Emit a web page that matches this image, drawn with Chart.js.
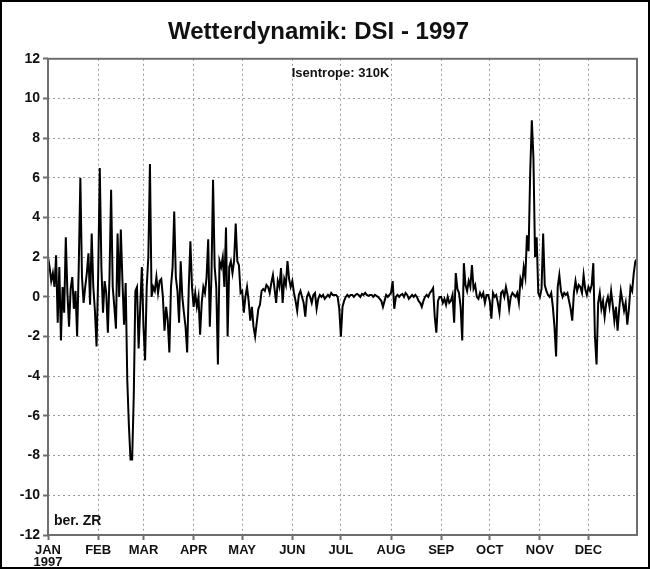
<!DOCTYPE html>
<html><head><meta charset="utf-8">
<script src="https://cdn.jsdelivr.net/npm/chart.js@4"></script>
<style>html,body{margin:0;padding:0;background:#fff}#c{display:block}</style>
</head><body>
<canvas id="c" width="650" height="569"></canvas>
<script>
const titleText = 'Wetterdynamik: DSI - 1997';
const isentropeText = 'Isentrope: 310K';
const sourceText = 'ber. ZR';
const yearLabel = '1997';
const monthLabels = ['JAN','FEB','MAR','APR','MAY','JUN','JUL','AUG','SEP','OCT','NOV','DEC'];
const monthStarts = [0,31,59,90,120,151,181,212,243,273,304,334];
const yMin = -12, yMax = 12, yStep = 2;
// daily DSI values, day-of-year index 0..364
const dsi = [
 // Jan
 2.0,1.5,0.8,1.2,0.5,2.1,-1.3,1.5,-2.2,0.5,-0.8,3.0,0.2,-1.5,0.4,1.0,-0.6,0.3,-2.0,1.5,6.0,1.0,-0.3,0.5,1.2,2.2,-0.4,3.2,0.5,-0.7,-2.5,
 // Feb
 1.0,6.5,1.5,-0.8,0.8,0.2,-1.8,1.0,5.4,0.5,-0.5,-1.6,3.2,0.0,3.4,0.8,-1.4,0.7,-4.2,-6.5,-8.2,-8.2,-5.0,0.3,0.5,-2.6,-0.5,1.5,
 // Mar
 -1.5,-3.2,0.5,2.0,6.7,0.0,0.5,0.3,1.0,0.2,0.8,0.9,0.0,-1.7,-0.5,-1.2,-2.8,0.5,1.5,4.3,1.0,0.3,-1.3,1.8,0.0,-0.8,-1.5,-2.8,0.5,2.8,0.5,
 // Apr
 -0.5,0.2,-0.5,0.0,-1.9,-0.3,0.5,0.2,1.0,2.9,-1.5,1.0,5.9,1.5,0.5,-3.4,1.8,1.5,2.0,0.5,3.5,-2.0,1.5,1.8,1.2,1.8,3.7,1.8,1.6,0.2,
 // May
 0.3,-0.8,0.0,0.5,-0.2,-1.2,-0.5,-1.5,-2.0,-1.3,-0.6,-0.4,0.3,0.4,0.3,0.6,0.5,0.2,0.7,1.1,0.4,-0.3,0.8,0.5,1.45,-0.3,0.9,0.6,1.8,0.9,0.5,
 // Jun
 0.8,0.2,-0.2,-0.7,0.1,0.3,0.0,-0.3,-1.0,0.0,0.2,0.0,-0.3,0.1,0.2,-0.6,-0.1,0.1,0.0,0.1,-0.1,0.0,0.1,0.0,0.2,0.1,0.1,0.1,0.0,-0.6,
 // Jul
 -2.0,-0.5,-0.2,0.0,0.1,0.0,0.1,0.1,0.0,0.1,0.15,0.1,0.0,0.15,0.1,0.2,0.1,0.05,0.1,0.1,0.0,0.1,0.05,0.0,-0.1,-0.2,-0.5,-0.2,0.1,0.0,0.1,
 // Aug
 0.2,0.8,-0.6,0.0,0.1,0.0,0.1,0.15,0.0,0.2,0.1,-0.1,0.0,0.1,0.0,0.1,0.0,-0.2,-0.3,-0.5,-0.2,0.0,0.1,0.0,0.2,0.3,0.45,-1.0,-1.8,-0.2,0.0,
 // Sep
 0.0,-0.3,-0.1,-0.4,0.0,-0.3,-0.2,0.1,-1.3,1.2,0.4,0.2,-0.5,-2.2,1.7,0.6,0.3,0.8,0.5,1.6,0.4,0.6,0.0,-0.1,0.2,0.0,0.2,-0.3,0.1,0.1,
 // Oct
 -0.2,-1.1,0.2,0.0,0.1,-0.3,-0.8,0.2,0.3,0.0,0.5,0.1,-0.6,0.0,0.2,0.1,0.0,0.2,-0.3,0.9,0.6,1.5,1.0,3.1,2.3,6.3,8.9,7.0,2.0,3.0,0.2,
 // Nov
 0.0,0.4,3.2,0.6,0.3,0.1,0.0,0.2,-0.5,-1.5,-3.0,0.5,1.1,0.3,0.0,0.2,0.1,0.2,-0.2,-0.6,-1.2,0.2,0.8,0.3,0.6,0.5,0.2,1.1,0.4,0.1,
 // Dec
 0.5,0.3,0.6,1.7,-2.0,-3.4,-0.3,0.2,-0.6,-0.2,-1.0,-0.3,0.0,-0.5,0.3,-0.4,-1.2,-0.5,-1.7,-0.6,0.3,-0.2,-0.7,-0.3,-1.4,-0.6,0.5,0.3,1.2,1.8,1.9
];

const FONT = "'Liberation Sans', Arial, sans-serif";

const extras = {
  id: 'extras',
  afterDraw(chart) {
    const ctx = chart.ctx, a = chart.chartArea;
    ctx.save();
    ctx.strokeStyle = '#6e6e6e';
    ctx.lineWidth = 2;
    ctx.strokeRect(a.left, a.top, a.right - a.left, a.bottom - a.top);
    ctx.strokeStyle = '#000';
    ctx.lineWidth = 2;
    ctx.strokeRect(1, 1, chart.width - 2, chart.height - 2);
    ctx.fillStyle = '#111';
    ctx.font = 'bold 13px ' + FONT;
    ctx.textAlign = 'center';
    ctx.textBaseline = 'middle';
    ctx.fillText(isentropeText, (a.left + a.right) / 2 - 2, a.top + 15);
    ctx.font = 'bold 14px ' + FONT;
    ctx.textAlign = 'left';
    ctx.fillText(sourceText, a.left + 6, a.bottom - 14);
    ctx.restore();
  }
};

new Chart(document.getElementById('c'), {
  type: 'line',
  data: {
    datasets: [{
      data: dsi.map((v, i) => ({ x: i, y: v })),
      borderColor: '#000',
      borderWidth: 2,
      pointRadius: 0,
      tension: 0
    }]
  },
  options: {
    responsive: false,
    animation: false,
    layout: { padding: { left: 0, right: 13, top: 4, bottom: 0 } },
    plugins: {
      legend: { display: false },
      tooltip: { enabled: false },
      title: {
        display: true, text: titleText, color: '#111',
        font: { family: FONT, size: 24, weight: 'bold' },
        padding: { top: 14, bottom: 12 }
      }
    },
    scales: {
      x: {
        type: 'linear', min: 0, max: 364,
        afterBuildTicks: s => { s.ticks = monthStarts.map(v => ({ value: v })); },
        afterFit: s => { s.height = 34; },
        ticks: {
          autoSkip: false, maxRotation: 0, minRotation: 0, padding: 4,
          color: '#111', font: { family: FONT, size: 13, weight: 'bold', lineHeight: 0.95 },
          callback: (v) => { const i = monthStarts.indexOf(v); return i === 0 ? [monthLabels[0], yearLabel] : monthLabels[i]; }
        },
        grid: { color: '#9a9a9a', lineWidth: 1, tickColor: '#6e6e6e', tickLength: 5, tickBorderDash: [], tickWidth: 2 },
        border: { display: false, dash: [2, 3] }
      },
      y: {
        min: yMin, max: yMax,
        afterFit: s => { s.width = 48; },
        ticks: {
          stepSize: yStep, padding: 3, color: '#111',
          font: { family: FONT, size: 14, weight: 'bold' }
        },
        grid: { color: '#9a9a9a', lineWidth: 1, tickColor: '#6e6e6e', tickLength: 5, tickBorderDash: [], tickWidth: 2 },
        border: { display: false, dash: [2, 3] }
      }
    }
  },
  plugins: [extras]
});
</script>
</body></html>
